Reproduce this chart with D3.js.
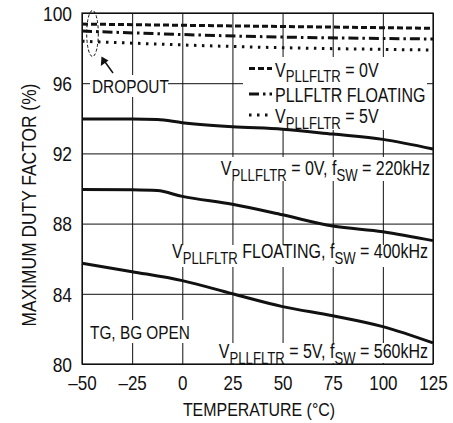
<!DOCTYPE html>
<html><head><meta charset="utf-8">
<script src="https://cdn.jsdelivr.net/npm/d3@7"></script>
<style>
html,body{margin:0;padding:0;background:#fff;}
text{font-family:"Liberation Sans","Arial",sans-serif;fill:#111;}
</style></head>
<body><svg id="c" width="453" height="423"></svg>
<script>
// ---- data ----
const xTicks = [-50, -25, 0, 25, 50, 75, 100, 125];
const xTickLabels = ["–50", "–25", "0", "25", "50", "75", "100", "125"];
const yTicks = [80, 84, 88, 92, 96, 100];
const yTickLabels = ["80", "84", "88", "92", "96", "100"];

const tempFlat = [-50, -25, -12.5, 0, 25, 50, 75, 100, 125];
const duty0V220 = [93.96, 93.96, 93.93, 93.75, 93.52, 93.38, 93.1, 92.8, 92.25];
const dutyFloat400 = [89.95, 89.93, 89.88, 89.55, 89.1, 88.5, 87.86, 87.54, 87.03];
const temp5V = [-50, -25, 0, 25, 50, 75, 100, 125];
const duty5V560 = [85.74, 85.26, 84.75, 84.0, 83.27, 82.75, 82.13, 81.2];

const tempDrop = [-50, 29, 125];
const drop0V = [99.37, 99.26, 99.13];
const dropFloat = [98.97, 98.68, 98.52];
const drop5V = [98.39, 98.08, 97.89];

// ---- layout ----
const L = 82, R = 433, T = 13, B = 364;
const FS = 20, SX = 0.8, SUB = 0.82, SUBDY = 5.5;
const svg = d3.select("#c");
const x = d3.scaleLinear().domain([-50, 125]).range([L, R]);
const y = d3.scaleLinear().domain([80, 100]).range([B, T]);

// gridlines + tick labels via axes
const gx = svg.append("g").attr("transform", `translate(0,${B})`)
  .call(d3.axisBottom(x).tickValues(xTicks).tickSize(-(B - T)).tickSizeOuter(0)
    .tickFormat((d, i) => xTickLabels[i]));
const gy = svg.append("g").attr("transform", `translate(${L},0)`)
  .call(d3.axisLeft(y).tickValues(yTicks).tickSize(-(R - L)).tickSizeOuter(0)
    .tickFormat((d, i) => yTickLabels[i]));
[gx, gy].forEach(g => {
  g.select(".domain").remove();
  g.selectAll(".tick line").attr("stroke", "#111").attr("stroke-width", 1);
  g.selectAll("text").attr("font-size", FS).attr("fill", "#111")
    .attr("font-family", '"Liberation Sans", Arial, sans-serif');
});
gx.selectAll("text").attr("y", 26).attr("dy", 0)
  .attr("transform", "scale(0.85,1)");
gy.selectAll("text").attr("x", -10 / 0.87).attr("dy", "0.36em")
  .attr("transform", "scale(0.87,1)");

// white backgrounds for labels (interrupting grid)
const bgs = [
  [90, 75, 78, 22],     // DROPOUT
  [243, 57, 184, 73],   // legend
  [210, 157, 222, 24],  // 0V label
  [166, 245, 264, 22],  // floating label
  [88, 320, 101, 23],   // TG BG OPEN
  [208, 343, 224, 20]   // 5V label
];
svg.append("g").selectAll("rect").data(bgs).join("rect")
  .attr("x", d => d[0]).attr("y", d => d[1]).attr("width", d => d[2]).attr("height", d => d[3])
  .attr("fill", "#fff");

// frame
svg.append("rect").attr("x", L).attr("y", T).attr("width", R - L).attr("height", B - T)
  .attr("fill", "none").attr("stroke", "#111").attr("stroke-width", 1.2);

// curves
const line = d3.line().x(d => x(d[0])).y(d => y(d[1])).curve(d3.curveMonotoneX);
function drawCurve(ts, vs, dash) {
  svg.append("path").datum(ts.map((t, i) => [t, vs[i]]))
    .attr("d", line).attr("fill", "none").attr("stroke", "#111")
    .attr("stroke-width", 3).attr("stroke-dasharray", dash || null);
}
drawCurve(tempFlat, duty0V220);
drawCurve(tempFlat, dutyFloat400);
drawCurve(temp5V, duty5V560);
const DASH = "6 3", DASHDOT = "10 4 2.5 4", DOT = "2.5 5.5";
drawCurve(tempDrop, drop0V, DASH);
drawCurve(tempDrop, dropFloat, DASHDOT);
drawCurve(tempDrop, drop5V, DOT);

// text helper: parts = [string | [string, isSub]]
function label(px, py, anchor, parts, fs, sx, rotate) {
  fs = fs || FS; sx = sx || SX;
  const g = svg.append("g").attr("transform",
    `translate(${px},${py})` + (rotate ? ` rotate(${rotate})` : "") + ` scale(${sx},1)`);
  const t = g.append("text").attr("text-anchor", anchor).attr("font-size", fs);
  let prevSub = false;
  parts.forEach(p => {
    if (typeof p === "string") p = [p, false];
    const ts = t.append("tspan").text(p[0]);
    if (p[1] && !prevSub) ts.attr("font-size", fs * SUB).attr("dy", SUBDY);
    else if (!p[1] && prevSub) ts.attr("dy", -SUBDY);
    prevSub = p[1];
  });
  return g;
}

// axis titles
label(259, 416, "middle", ["TEMPERATURE (°C)"], 19, 0.84);
label(36, 205, "middle", ["MAXIMUM DUTY FACTOR (%)"], 20, 0.87, -90);

// annotations
label(92, 93, "start", ["DROPOUT"], 19, 0.81);
label(90, 339, "start", ["TG, BG OPEN"], 19, 0.81);
label(430, 175, "end", ["V", ["PLLFLTR", true], " = 0V, f", ["SW", true], " = 220kHz"]);
label(428, 258, "end", ["V", ["PLLFLTR", true], " FLOATING, f", ["SW", true], " = 400kHz"]);
label(428, 358, "end", ["V", ["PLLFLTR", true], " = 5V, f", ["SW", true], " = 560kHz"]);

// legend
const legendRows = [
  {dash: DASH, parts: ["V", ["PLLFLTR", true], " = 0V"], y: 76.5},
  {dash: DASHDOT, parts: ["PLLFLTR FLOATING"], y: 102},
  {dash: DOT, parts: ["V", ["PLLFLTR", true], " = 5V"], y: 123}
];
legendRows.forEach(r => {
  svg.append("line").attr("x1", 249).attr("x2", 272).attr("y1", r.y - 8).attr("y2", r.y - 8)
    .attr("stroke", "#111").attr("stroke-width", 3).attr("stroke-dasharray", r.dash);
  label(275, r.y, "start", r.parts);
});

// dropout ellipse and arrow
svg.append("ellipse").attr("cx", 92.5).attr("cy", 33.5).attr("rx", 5.8).attr("ry", 23)
  .attr("fill", "none").attr("stroke", "#111").attr("stroke-width", 1).attr("stroke-dasharray", "3 2");
svg.append("line").attr("x1", 113).attr("y1", 73).attr("x2", 104).attr("y2", 60.5)
  .attr("stroke", "#111").attr("stroke-width", 1.5);
svg.append("path").attr("d", "M101.5,56.5 L100.8,66 L108.5,60.5 Z").attr("fill", "#111");
</script></body></html>
